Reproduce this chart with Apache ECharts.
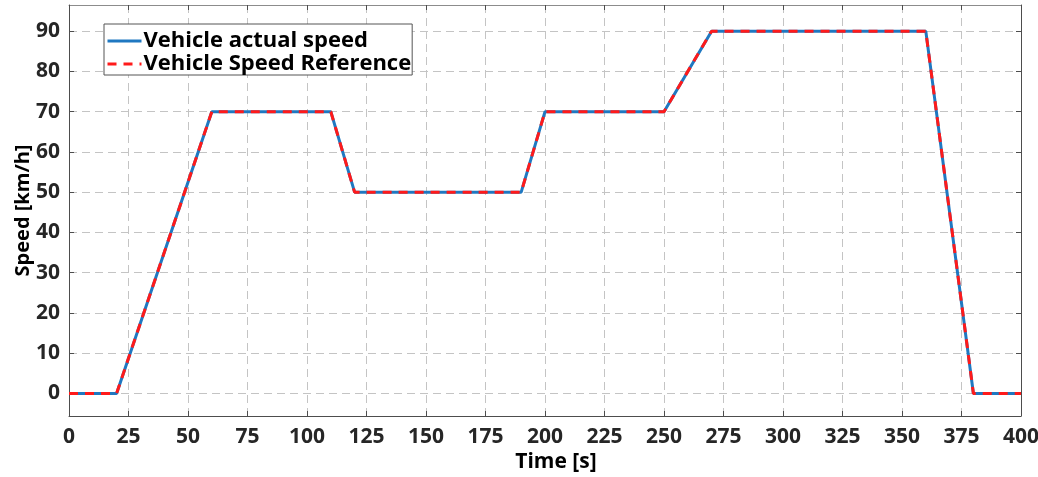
<!DOCTYPE html>
<html>
<head>
<meta charset="utf-8">
<script src="https://cdn.jsdelivr.net/npm/echarts@6/dist/echarts.min.js"></script>
<style>
  html, body { margin: 0; padding: 0; background: #fff; overflow: hidden; }
  #chart { width: 1038px; height: 477px; }
</style>
</head>
<body>
<div id="chart"></div>
<script>
// Speed profile breakpoints: time [s] and speed [km/h]
const timeActual = [0, 20, 60, 110, 120, 190, 200, 250, 270, 360, 380, 400];
const speedActual = [0, 0, 70, 70, 50, 50, 70, 70, 90, 90, 0, 0];
const timeReference = [0, 20, 60, 110, 120, 190, 200, 250, 270, 360, 380, 400];
const speedReference = [0, 0, 70, 70, 50, 50, 70, 70, 90, 90, 0, 0];

const yTickValues = [0, 10, 20, 30, 40, 50, 60, 70, 80, 90];
const seriesNames = ['Vehicle actual speed', 'Vehicle Speed Reference'];

const FONT = 'Open Sans';
const AXIS_COLOR = '#4d4d4d';
const LABEL_COLOR = '#262626';
const BLUE = '#1f78c1';
const RED = '#ff1a1a';

function pairs(xs, ys) {
  return xs.map((x, i) => [x, ys[i]]);
}

const gridLine = { show: true, lineStyle: { color: '#c4c4c4', width: 1, type: [8, 5] } };
const tickStyle = { show: true, inside: true, length: 5, lineStyle: { color: AXIS_COLOR, width: 1 } };

const chart = echarts.init(document.getElementById('chart'), null, { renderer: 'canvas' });

chart.setOption({
  animation: false,
  backgroundColor: '#ffffff',
  grid: { left: 69, right: 17, top: 5, bottom: 61, containLabel: false, outerBoundsMode: 'none' },
  legend: {
    orient: 'vertical',
    left: 104,
    top: 24,
    data: seriesNames,
    backgroundColor: '#ffffff',
    borderColor: '#555555',
    borderWidth: 1,
    borderRadius: 0,
    padding: [6, 1, 0, 2],
    itemWidth: 34,
    itemHeight: 14,
    itemGap: 1,
    itemStyle: { opacity: 0 },
    lineStyle: { width: 3 },
    textStyle: { fontFamily: FONT, fontWeight: 'bold', fontSize: 22, lineHeight: 22, color: '#000000', padding: [0, 0, 0, -3] }
  },
  xAxis: [
    {
      type: 'value',
      min: 0,
      max: 400,
      interval: 25,
      name: 'Time [s]',
      nameLocation: 'middle',
      nameGap: 36,
      nameMoveOverlap: false,
      nameTextStyle: { fontFamily: FONT, fontWeight: 'bold', fontSize: 21, color: '#000000', padding: [0, 0, 0, 22] },
      axisLine: { show: true, onZero: false, lineStyle: { color: AXIS_COLOR, width: 1 } },
      axisTick: tickStyle,
      axisLabel: { fontFamily: FONT, fontWeight: 'bold', fontSize: 21, color: LABEL_COLOR, margin: 11 },
      splitLine: gridLine
    },
    {
      type: 'value',
      position: 'top',
      min: 0,
      max: 400,
      interval: 25,
      axisLine: { show: true, onZero: false, lineStyle: { color: '#8c8c8c', width: 1 } },
      axisTick: tickStyle,
      axisLabel: { show: false },
      splitLine: { show: false }
    }
  ],
  yAxis: [
    {
      type: 'value',
      min: -5.6,
      max: 96.5,
      name: 'Speed [km/h]',
      nameLocation: 'middle',
      nameGap: 36,
      nameMoveOverlap: false,
      nameRotate: 90,
      nameTextStyle: { fontFamily: FONT, fontWeight: 'bold', fontSize: 20, color: '#000000' },
      axisLine: { show: true, onZero: false, lineStyle: { color: AXIS_COLOR, width: 1 } },
      axisTick: Object.assign({}, tickStyle, { customValues: yTickValues }),
      axisLabel: { customValues: yTickValues, fontFamily: FONT, fontWeight: 'bold', fontSize: 21, color: LABEL_COLOR, margin: 9 },
      splitLine: gridLine
    },
    {
      type: 'value',
      position: 'right',
      min: -5.6,
      max: 96.5,
      axisLine: { show: true, onZero: false, lineStyle: { color: AXIS_COLOR, width: 1 } },
      axisTick: Object.assign({}, tickStyle, { customValues: yTickValues }),
      axisLabel: { show: false },
      splitLine: { show: false }
    }
  ],
  series: [
    {
      name: seriesNames[0],
      type: 'line',
      xAxisIndex: 0,
      yAxisIndex: 0,
      data: pairs(timeActual, speedActual),
      showSymbol: false,
      symbol: 'none',
      lineStyle: { color: BLUE, width: 3 },
      itemStyle: { color: BLUE },
      z: 2
    },
    {
      name: seriesNames[1],
      type: 'line',
      xAxisIndex: 0,
      yAxisIndex: 0,
      data: pairs(timeReference, speedReference),
      showSymbol: false,
      symbol: 'none',
      lineStyle: { color: RED, width: 3, type: [9, 7] },
      itemStyle: { color: RED },
      z: 3
    }
  ]
});
</script>
</body>
</html>
